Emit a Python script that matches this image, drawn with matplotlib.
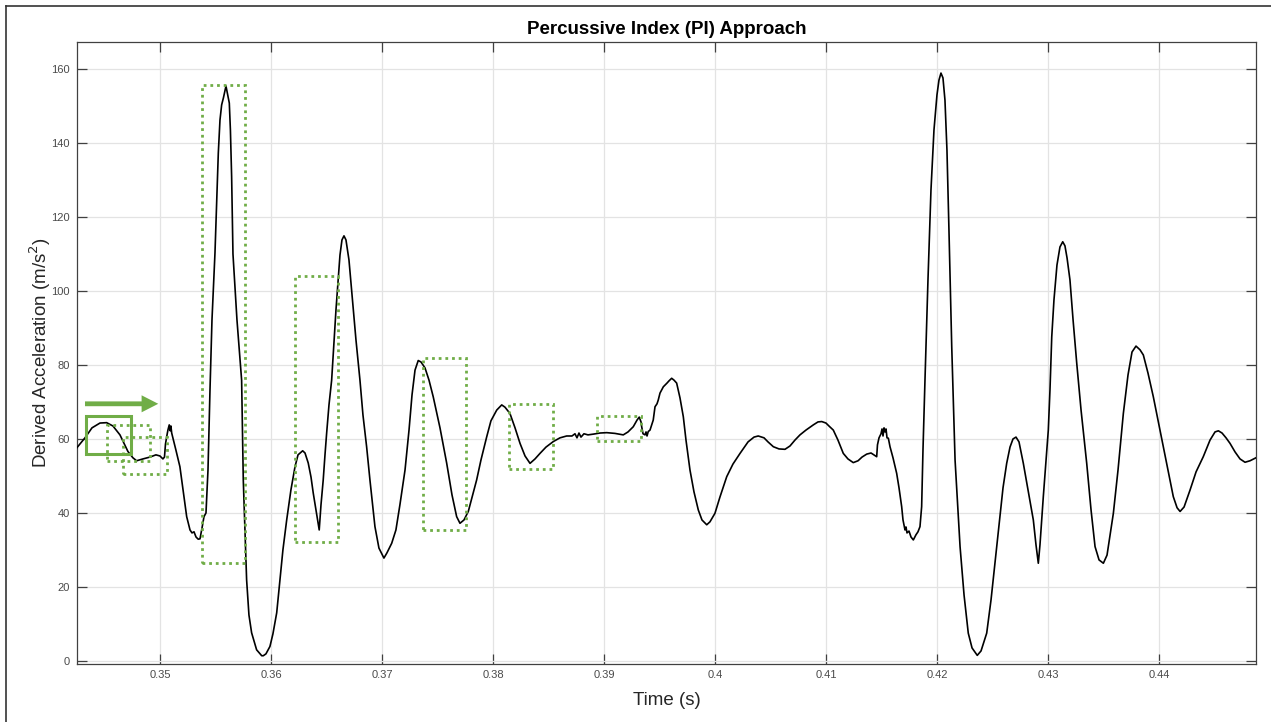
import matplotlib
matplotlib.use('Agg')
import matplotlib.pyplot as plt
from matplotlib.patches import Rectangle, FancyArrow
from matplotlib.lines import Line2D

plt.rcParams['font.family'] = ['Liberation Sans', 'DejaVu Sans']

# time in ms, derived acceleration in m/s^2
time_ms = [
    342.40, 343.22, 343.85, 344.57, 345.17, 345.74, 346.37, 347.09, 347.54, 347.87,
    348.44, 349.07, 349.61, 349.97, 350.24, 350.38, 350.47, 350.58, 350.69, 350.81,
    350.90, 350.96, 351.03, 351.14, 351.41, 351.77, 352.05, 352.38, 352.68, 352.86,
    353.04, 353.22, 353.42, 353.58, 353.76, 353.94, 354.12, 354.30, 354.48, 354.66,
    354.93, 355.23, 355.38, 355.53, 355.69, 355.92, 356.22, 356.32, 356.43, 356.55,
    356.91, 357.33, 357.48, 357.78, 357.99, 358.23, 358.68, 359.14, 359.28, 359.52,
    359.88, 360.15, 360.49, 360.78, 361.05, 361.39, 361.77, 362.14, 362.41, 362.83,
    363.04, 363.33, 363.58, 363.78, 364.03, 364.32, 364.48, 364.68, 364.84, 364.99,
    365.20, 365.44, 365.83, 366.19, 366.37, 366.55, 366.73, 367.00, 367.36, 367.63,
    367.99, 368.26, 368.59, 368.89, 369.34, 369.70, 370.15, 370.42, 370.85, 371.23,
    371.59, 372.05, 372.41, 372.68, 372.95, 373.24, 373.49, 373.85, 374.21, 374.59,
    375.20, 375.80, 376.28, 376.70, 377.00, 377.36, 377.75, 378.08, 378.50, 378.89,
    379.41, 379.79, 380.31, 380.76, 381.05, 381.50, 381.96, 382.41, 382.86, 383.31,
    383.76, 384.21, 384.75, 385.41, 386.01, 386.61, 387.09, 387.36, 387.54, 387.72,
    387.90, 388.17, 388.53, 389.01, 389.61, 390.22, 390.96, 391.71, 392.14, 392.61,
    392.95, 393.15, 393.31, 393.37, 393.49, 393.67, 393.76, 393.85, 393.96, 394.12,
    394.41, 394.57, 394.75, 394.86, 395.02, 395.32, 395.65, 395.83, 396.07, 396.28,
    396.52, 396.82, 397.12, 397.36, 397.72, 398.08, 398.47, 398.80, 399.23, 399.52,
    399.97, 400.42, 401.03, 401.59, 402.23, 402.95, 403.49, 403.87, 404.39, 404.75,
    405.23, 405.74, 406.28, 406.73, 407.18, 407.63, 408.17, 408.83, 409.25, 409.59,
    409.97, 410.24, 410.63, 411.05, 411.53, 411.95, 412.43, 412.86, 413.22, 413.64,
    414.03, 414.54, 414.61, 414.75, 414.93, 415.02, 415.11, 415.20, 415.29, 415.38,
    415.47, 415.59, 415.74, 416.01, 416.34, 416.55, 416.79, 416.91, 417.09, 417.18,
    417.27, 417.45, 417.63, 417.84, 418.08, 418.26, 418.44, 418.59, 418.71, 418.89,
    419.16, 419.43, 419.70, 419.97, 420.15, 420.33, 420.51, 420.69, 420.87, 421.05,
    421.30, 421.60, 422.05, 422.41, 422.79, 423.13, 423.60, 423.94, 424.45, 424.84,
    425.35, 425.65, 425.92, 426.25, 426.55, 426.82, 427.09, 427.36, 427.75, 428.17,
    428.65, 428.89, 429.10, 429.25, 429.55, 430.00, 430.15, 430.31, 430.51, 430.78,
    431.05, 431.30, 431.50, 431.69, 431.95, 432.23, 432.56, 432.95, 433.46, 433.85,
    434.21, 434.57, 434.96, 435.29, 435.86, 436.28, 436.76, 437.18, 437.54, 437.90,
    438.26, 438.56, 438.98, 439.46, 439.88, 440.36, 440.78, 441.26, 441.60, 441.87,
    442.23, 442.77, 443.31, 443.96, 444.57, 445.02, 445.32, 445.65, 446.01, 446.37,
    446.82, 447.27, 447.72, 448.17, 448.71, 448.90,
]
accel = [
    57.3, 60.3, 63.0, 64.3, 64.4, 63.5, 61.1, 56.6, 54.9, 54.1,
    54.6, 55.1, 55.7, 55.4, 54.6, 55.1, 58.6, 60.6, 62.4, 63.8,
    62.2, 63.5, 61.6, 60.3, 57.0, 52.5, 46.2, 39.0, 35.4, 34.6,
    34.9, 33.5, 32.9, 33.0, 35.9, 39.0, 40.0, 51.6, 73.2, 92.2,
    110.3, 137.3, 146.2, 150.3, 152.2, 155.4, 150.8, 143.5, 130.9, 110.0,
    92.2, 75.9, 48.9, 21.9, 12.4, 7.6, 3.0, 1.4, 1.4, 1.9,
    3.9, 7.3, 13.0, 21.9, 30.0, 38.1, 46.2, 52.5, 55.7, 56.8,
    56.2, 53.5, 49.7, 45.4, 40.8, 35.4, 42.2, 48.9, 55.7, 61.6,
    69.2, 75.9, 94.9, 109.7, 113.8, 114.9, 113.8, 108.4, 96.2, 86.8,
    75.9, 66.5, 57.9, 48.9, 36.3, 30.5, 27.8, 29.2, 31.8, 35.4,
    42.2, 51.6, 62.4, 71.9, 78.6, 81.2, 80.8, 79.2, 75.9, 71.4,
    63.0, 53.5, 44.9, 39.0, 37.2, 38.1, 40.4, 44.1, 48.9, 54.3,
    60.6, 64.9, 67.8, 69.2, 68.6, 66.9, 63.0, 58.8, 55.4, 53.4,
    54.6, 56.1, 57.8, 59.3, 60.3, 60.8, 60.8, 61.4, 60.3, 61.6,
    60.5, 61.4, 61.1, 61.3, 61.6, 61.7, 61.5, 61.1, 61.9, 63.3,
    65.1, 65.9, 64.6, 63.3, 61.4, 61.1, 61.9, 60.8, 62.0, 62.4,
    65.1, 68.7, 69.5, 70.5, 72.4, 74.1, 75.1, 75.7, 76.4, 75.9,
    75.1, 71.1, 66.0, 59.7, 51.6, 45.7, 40.8, 38.1, 36.8, 37.6,
    39.9, 44.3, 49.8, 53.2, 56.1, 59.2, 60.5, 60.8, 60.3, 59.2,
    57.9, 57.3, 57.2, 58.1, 59.7, 61.1, 62.4, 63.8, 64.6, 64.7,
    64.3, 63.5, 62.4, 59.7, 56.1, 54.6, 53.6, 54.1, 55.1, 55.9,
    56.2, 55.2, 58.4, 60.3, 61.4, 62.7, 60.8, 63.0, 61.9, 62.7,
    60.3, 60.2, 57.9, 54.9, 50.7, 46.8, 41.7, 38.1, 35.4, 36.2,
    34.6, 35.1, 33.5, 32.7, 34.1, 34.9, 36.3, 41.7, 57.0, 75.9,
    103.0, 127.3, 143.5, 153.0, 157.0, 158.9, 157.6, 151.6, 138.1, 116.5,
    85.0, 54.3, 30.9, 17.8, 7.5, 3.5, 1.5, 2.7, 7.5, 16.5,
    30.9, 39.5, 46.8, 53.4, 57.8, 60.0, 60.5, 59.2, 53.4, 46.2,
    38.1, 31.4, 26.4, 31.4, 44.4, 62.4, 73.2, 87.6, 97.6, 107.0,
    111.9, 113.3, 112.2, 108.9, 103.0, 92.2, 80.5, 67.8, 53.4, 40.8,
    30.9, 27.3, 26.4, 28.6, 39.9, 51.6, 66.9, 77.3, 83.5, 85.1,
    84.1, 82.7, 77.8, 71.4, 65.1, 57.9, 51.6, 44.4, 41.4, 40.4,
    41.6, 46.2, 51.1, 55.2, 59.7, 61.9, 62.2, 61.6, 60.3, 58.8,
    56.5, 54.6, 53.7, 54.1, 54.9, 55.2,
]

# highlight windows: (start ms, end ms, low, high)
solid_box = (343.28, 347.33, 55.9, 66.2)
dotted_boxes = [
    (345.17, 349.07, 54.1, 63.8),
    (346.67, 350.63, 50.5, 60.5),
    (353.73, 357.63, 26.4, 155.7),
    (362.14, 366.04, 32.2, 104.1),
    (373.64, 377.54, 35.4, 81.8),
    (381.44, 385.41, 51.8, 69.4),
    (389.32, 393.28, 59.5, 66.3),
]
arrow_start = 343.22
arrow_end = 349.82
arrow_level = 69.5

green = '#70ad47'

fig = plt.figure(figsize=(12.71, 7.22), dpi=100)
ax = fig.add_axes([77 / 1271, 1 - 663.5 / 722, (1256 - 77) / 1271, (663.5 - 42) / 722])

t = [v / 1000 for v in time_ms]
ax.plot(t, accel, color='black', lw=1.2, zorder=3)

for (a, b, lo, hi) in dotted_boxes:
    ax.add_patch(Rectangle((a / 1000, lo), (b - a) / 1000, hi - lo, fill=False,
                           ec=green, lw=2.0, ls=(0, (1, 1.4)), zorder=4))
a, b, lo, hi = solid_box
ax.add_patch(Rectangle((a / 1000, lo), (b - a) / 1000, hi - lo, fill=False,
                       ec=green, lw=2.2, zorder=4))

head_len = 0.0015
ax.add_patch(FancyArrow(arrow_start / 1000, arrow_level,
                        (arrow_end - arrow_start) / 1000, 0,
                        width=1.3, head_width=4.6, head_length=head_len,
                        length_includes_head=True, color=green, lw=0, zorder=4))

ax.set_xlim(0.3425, 0.44871)
ax.set_ylim(-0.7, 167.3)
ax.set_xticks([0.35, 0.36, 0.37, 0.38, 0.39, 0.40, 0.41, 0.42, 0.43, 0.44])
ax.set_xticklabels(['0.35', '0.36', '0.37', '0.38', '0.39', '0.4', '0.41', '0.42', '0.43', '0.44'])
ax.set_yticks(range(0, 161, 20))

ax.grid(True, color='#e3e3e3', lw=0.9)
ax.set_axisbelow(True)
ax.tick_params(direction='in', length=7, width=0.9, top=True, right=True,
               labelsize=8, labelcolor='#4a4a4a', color='#404040', pad=5)
for s in ax.spines.values():
    s.set_color('#404040')
    s.set_linewidth(0.9)

ax.set_title('Percussive Index (PI) Approach', fontsize=13.5, fontweight='bold', pad=6)
ax.set_xlabel('Time (s)', fontsize=13.5, color='#262626', labelpad=8)
ax.set_ylabel('Derived Acceleration (m/s$^2$)', fontsize=13.5, color='#262626', labelpad=-1)

# outer frame of the screenshot
fig.add_artist(Line2D([6 / 1271, 6 / 1271], [0, 1 - 6 / 722], color='#333333', lw=1.2))
fig.add_artist(Line2D([6 / 1271, 1], [1 - 6 / 722, 1 - 6 / 722], color='#333333', lw=1.2))

fig.savefig('out.png', dpi=100)
